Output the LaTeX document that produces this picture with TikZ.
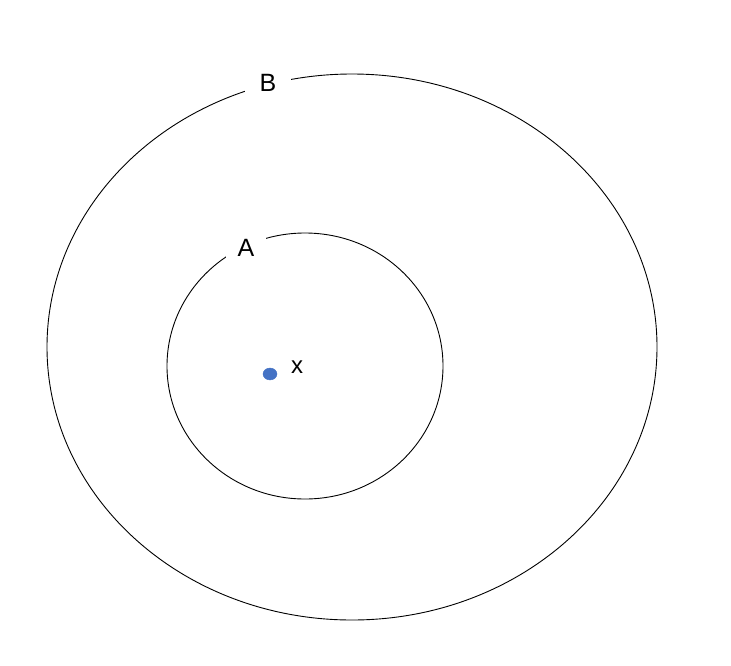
\documentclass[tikz,border=0pt]{standalone}
\usepackage{fontspec}
\setmainfont{Liberation Sans}
\definecolor{pointblue}{RGB}{68, 114, 196}

\begin{document}
\begin{tikzpicture}[x=1pt, y=-1pt,
        setline/.style={black, line width=0.9pt},
        setlabel/.style={fill=white, inner sep=0pt, font=\fontsize{25}{30}\selectfont}]
            % Frame to ensure alignment:
            \useasboundingbox                                             (0, 0) rectangle (731, 665);
            % Outer set B
            \draw[setline] (352, 347) ellipse [x radius=305, y radius=273];
            \node[setlabel, minimum width=46, minimum height=30] (labelB) at (268, 83) {B};
            % Inner set A
            \draw[setline] (305, 366) ellipse [x radius=138, y radius=133];
            \node[setlabel, minimum width=40, minimum height=30] (labelA) at (246, 248) {A};
            % Point x
            \filldraw[color=pointblue, fill=pointblue] (270, 374) ellipse [x radius=7, y radius=6];
            \node[font=\fontsize{24}{28}\selectfont] (labelx) at (297, 367) {x};
        \end{tikzpicture}
\end{document}
